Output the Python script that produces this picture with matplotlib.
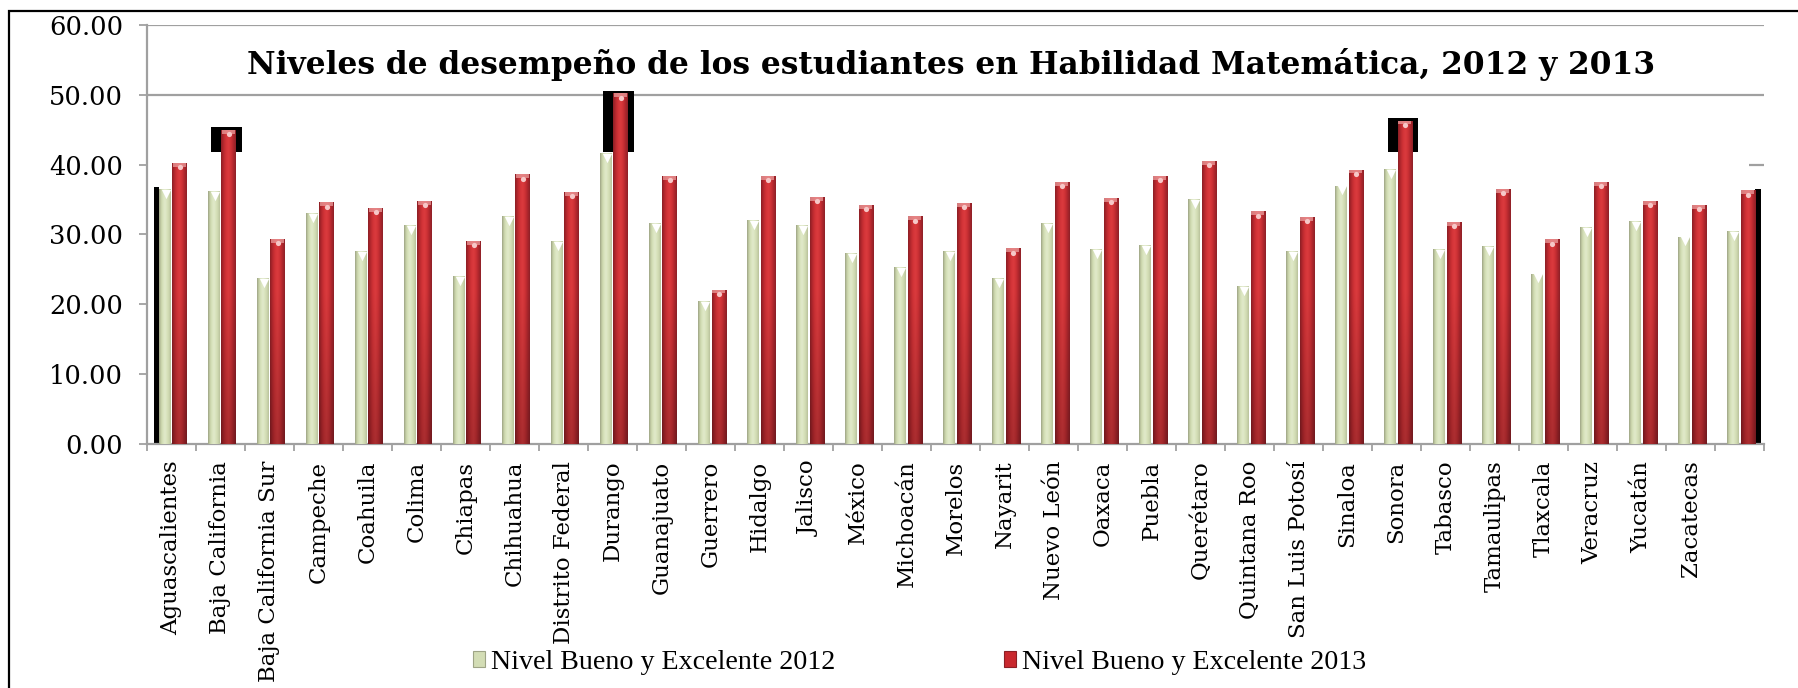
import numpy as np
import matplotlib
matplotlib.use("Agg")
import matplotlib.pyplot as plt
from matplotlib.patches import Patch, Rectangle
from matplotlib.colors import to_rgb


estados = ['Aguascalientes', 'Baja California', 'Baja California Sur', 'Campeche',
           'Coahuila', 'Colima', 'Chiapas', 'Chihuahua', 'Distrito Federal',
           'Durango', 'Guanajuato', 'Guerrero', 'Hidalgo', 'Jalisco', 'México',
           'Michoacán', 'Morelos', 'Nayarit', 'Nuevo León', 'Oaxaca', 'Puebla',
           'Querétaro', 'Quintana Roo', 'San Luis Potosí', 'Sinaloa', 'Sonora',
           'Tabasco', 'Tamaulipas', 'Tlaxcala', 'Veracruz', 'Yucatán',
           'Zacatecas', '']

nivel_2012 = [36.5, 36.2, 23.8, 33.1, 27.6, 31.4, 24.1, 32.7, 29.1, 41.7, 31.6,
              20.5, 32.1, 31.3, 27.4, 25.3, 27.6, 23.8, 31.6, 27.9, 28.5, 35.1,
              22.6, 27.6, 37.0, 39.4, 27.9, 28.4, 24.4, 31.1, 31.9, 29.7, 30.5]

nivel_2013 = [40.2, 45.0, 29.4, 34.6, 33.8, 34.8, 29.1, 38.6, 36.1, 50.2, 38.4,
              22.1, 38.4, 35.4, 34.2, 32.6, 34.5, 28.0, 37.5, 35.2, 38.4, 40.5,
              33.3, 32.5, 39.3, 46.3, 31.8, 36.5, 29.3, 37.5, 34.8, 34.2, 36.3]

serie_2012 = 'Nivel Bueno y Excelente 2012'
serie_2013 = 'Nivel Bueno y Excelente 2013'
titulo = 'Niveles de desempeño de los estudiantes en Habilidad Matemática, 2012 y 2013'

GREEN = ['#9ea486', '#c7d2a8', '#d9e3bd', '#e1e9ca', '#d9e3bc', '#cdd7af', '#b9c29c']
RED = ['#8c1f25', '#b7282e', '#d23337', '#db3b3e', '#cf3236', '#b0272d', '#8f2128']
GRIS = '#a0a0a0'


def shade_bars(ax, xs, vals, width, profile, dark_bottom=0.0, z=3):
    """bars with a cylinder-ish horizontal gradient clipped to each rect"""
    bars = ax.bar(xs, vals, width=width, color=profile[3], linewidth=0, zorder=z)
    prof = np.array([to_rgb(c) for c in profile])
    xi = np.linspace(0, 1, 40)
    row = np.stack([np.interp(xi, np.linspace(0, 1, len(prof)), prof[:, k])
                    for k in range(3)], axis=-1)
    for rect in bars:
        x0 = rect.get_x()
        h = rect.get_height()
        yy = np.linspace(0, h, 60)
        fac = 1 - dark_bottom * (1 - np.clip(yy / 22.0, 0, 1))
        img = row[None, :, :] * fac[:, None, None]
        im = ax.imshow(img, extent=(x0, x0 + width, 0, h), aspect='auto',
                       origin='lower', interpolation='bilinear', zorder=z + 0.1)
        im.set_clip_path(rect)
    return bars


fig = plt.figure(figsize=(17.99, 6.88), dpi=100)
ax = fig.add_axes([0.0817, 0.3547, 0.9806 - 0.0817, 0.9637 - 0.3547])

x = np.arange(len(estados))
v12 = np.array(nivel_2012)
v13 = np.array(nivel_2013)
w12, w13 = 0.24, 0.29
x12 = x - 0.13
x13 = x + 0.165

# black smudges behind some bars (they are in the original picture)
altos = [1, 9, 25]
ax.bar(x13[altos] - 0.04, v13[altos] + 0.35 - 41.8, bottom=41.8, width=0.62,
       color='black', zorder=2)
ax.bar(x12[0] - w12 / 2 - 0.05, v12[0] + 0.3, width=0.1, color='black', zorder=2)
ax.bar(x13[-1] + w13 / 2 + 0.06, v13[-1] + 0.2, width=0.12, color='black', zorder=2)

shade_bars(ax, x12, v12, w12, GREEN, dark_bottom=0.0)
shade_bars(ax, x13, v13, w13, RED, dark_bottom=0.22)

# caps
ax.bar(x13, 0.55, bottom=v13 - 0.55, width=w13 * 0.9, color='#ea9c9c',
       alpha=0.75, linewidth=0, zorder=4)
ax.scatter(x13, v13 - 0.6, s=14, color='#f6c8c8', zorder=5, linewidths=0)
ax.scatter(x12 + 0.02, v12 - 0.7, s=45, marker='v', color='white', zorder=5,
           linewidths=0)

# grid pieces
ax.axhline(60, color=GRIS, lw=1.6, zorder=1)
ax.axhline(50, color=GRIS, lw=1.6, zorder=1)
ax.hlines(40, 32.2, 32.5, color=GRIS, lw=1.6, zorder=1)

ax.set_xlim(-0.5, len(estados) - 0.5)
ax.set_ylim(0, 60)
for s in ['top', 'right']:
    ax.spines[s].set_visible(False)
for s in ['left', 'bottom']:
    ax.spines[s].set_color(GRIS)
    ax.spines[s].set_linewidth(1.6)

ax.set_yticks(np.arange(0, 61, 10))
ax.set_yticklabels([f'{v:.2f}' for v in np.arange(0, 61, 10)],
                   fontsize=18.5, family='DejaVu Serif')
ax.tick_params(axis='y', length=6, width=1.3, color=GRIS, pad=11)

ax.set_xticks(np.arange(-0.5, len(estados), 1.0))
ax.set_xticklabels([])
ax.tick_params(axis='x', which='major', length=5, width=1.3, color=GRIS)
ax.set_xticks(x, minor=True)
ax.set_xticklabels(estados, minor=True, rotation=90, fontsize=16.5,
                   family='DejaVu Serif', va='top', ha='center')
ax.tick_params(axis='x', which='minor', length=0, pad=12)

fig.text(0.5286, 0.906, titulo, ha='center', va='center', fontsize=22.5,
         fontweight='bold', family='DejaVu Serif')

handles = [Patch(facecolor='#d3ddb5', edgecolor='#9ea486', lw=0.8),
           Patch(facecolor='#c9282e', edgecolor='#8c1f25', lw=0.8)]
fig.legend(handles, [serie_2012, serie_2013], loc='center', ncol=2,
           bbox_to_anchor=(0.511, 0.037), frameon=False,
           prop={'family': 'Liberation Serif', 'size': 20.2},
           handlelength=0.45, handleheight=0.5, handletextpad=0.2,
           columnspacing=6.0)

# outer frame
fig.patches.append(Rectangle((9 / 1799, -0.1), 1.1, 1.1 - 10.5 / 688, fill=False,
                             lw=1.6, edgecolor='black', transform=fig.transFigure))

fig.savefig('out.png', dpi=100)
